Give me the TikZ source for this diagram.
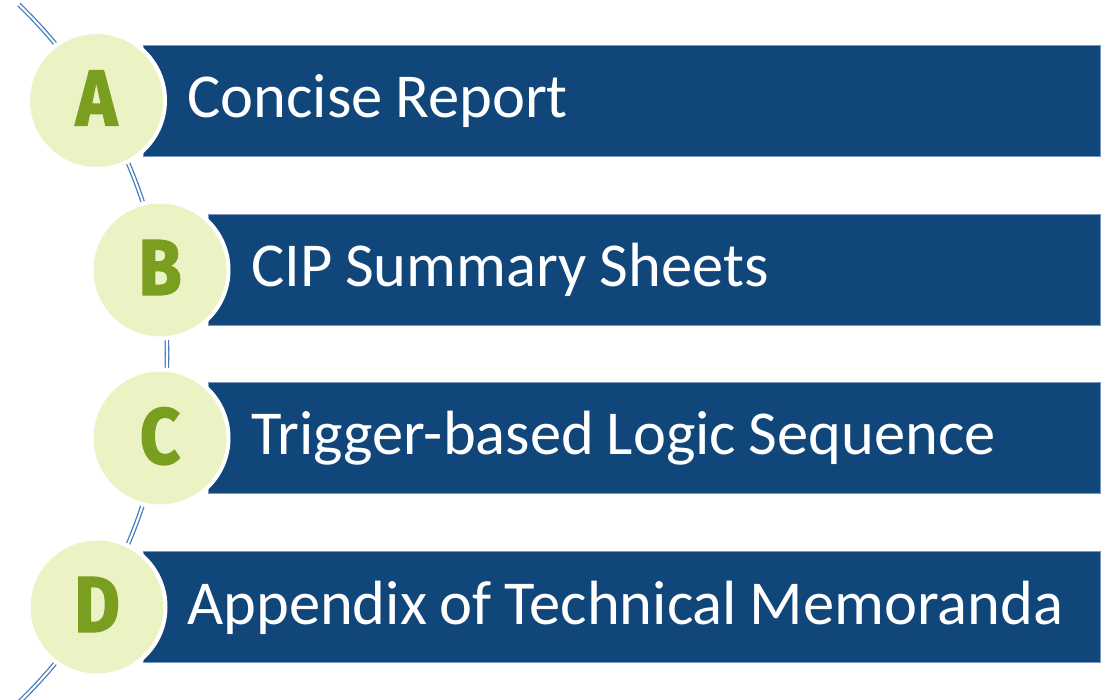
\documentclass[tikz,border=0pt]{standalone}
\usepackage{fontspec}
\setmainfont{Carlito}[WordSpace=0.9]
\newfontfamily\letterfont{Fira Sans}[FakeStretch=0.88, BoldFeatures={FakeBold=2}]
\definecolor{barblue}{RGB}{16,70,122}
\definecolor{baredge}{RGB}{120,150,190}
\definecolor{discfill}{RGB}{235,243,196}
\definecolor{lettergreen}{RGB}{122,158,32}
\definecolor{arcblue}{RGB}{70,125,185}
\tikzset{
    bar/.style={fill=barblue, draw=baredge, line width=0.8pt, anchor=west,
        minimum height=111pt, minimum width=#1, inner sep=0pt},
    bartext/.style={text=white, anchor=base west, inner sep=0pt,
        font=\fontsize{62.5}{70}\selectfont},
    disc/.style={circle, fill=discfill, draw=white, line width=4pt,
        minimum size=137pt, inner sep=0pt, text=lettergreen, text depth=5pt,
        font=\letterfont\bfseries\fontsize{79}{80}\selectfont},
    arcline/.style={draw=arcblue, line width=1.3pt, double=white, double distance=2pt},
}
\begin{document}
\begin{tikzpicture}[x=1pt, y=-1pt]
\useasboundingbox (0,0) rectangle (1112,700);
% the arc behind the discs
\coordinate (hub) at (-318,353.5);
\draw[arcline] ([shift={(-46:485)}]hub) arc[start angle=-46, end angle=46, radius=485];
% bars
\node[bar=957pt] (barA) at (143,100.5) {};
\node[bar=892pt] (barB) at (208,269.5) {};
\node[bar=892pt] (barC) at (208,438) {};
\node[bar=957pt] (barD) at (143,607) {};
\node[bartext] (textA) at ([xshift=44pt, yshift=-17pt]barA.west) {Concise Report};
\node[bartext] (textB) at ([xshift=43pt, yshift=-17pt]barB.west) {CIP Summary Sheets};
\node[bartext] (textC) at ([xshift=43pt, yshift=-17pt]barC.west) {Trigger-based Logic Sequence};
\node[bartext] (textD) at ([xshift=44pt, yshift=-17pt]barD.west) {Appendix of Technical Memoranda};
% discs
\node[disc] (discA) at (96.5,100.5) {A};
\node[disc] (discB) at (160,270) {B};
\node[disc] (discC) at (160,438) {C};
\node[disc] (discD) at (97,607) {D};
\end{tikzpicture}
\end{document}
